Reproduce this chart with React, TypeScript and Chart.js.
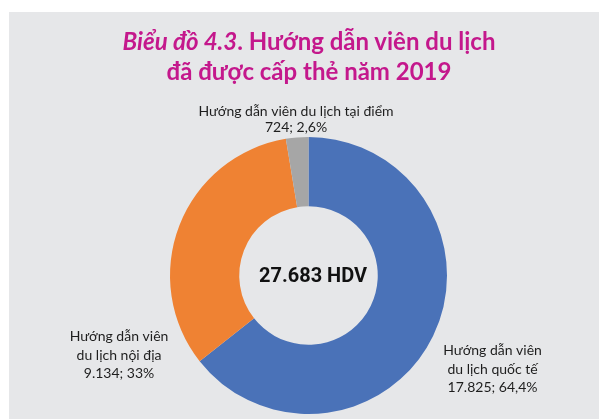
import React, { useEffect, useRef } from "react";
import { Chart, registerables } from "chart.js";

Chart.register(...registerables);

// ---- data ----
const categoryLines: string[][] = [
  ["Hướng dẫn viên", "du lịch quốc tế"],
  ["Hướng dẫn viên", "du lịch nội địa"],
  ["Hướng dẫn viên du lịch tại điểm"],
];
const values: number[] = [17825, 9134, 724];
const percents: number[] = [64.4, 33, 2.6];
const unitLabel = "HDV";
const titleItalic = "Biểu đồ 4.3";
const titleRest1 = ". Hướng dẫn viên du lịch";
const titleLine2 = "đã được cấp thẻ năm 2019";

// ---- styles ----
const sliceColors = ["#4a72b8", "#ef8233", "#a6a6a6"];
const bg = "#e6e7e9";

const fmtInt = (n: number) => String(n).replace(/\B(?=(\d{3})+(?!\d))/g, ".");
const fmtPct = (p: number) => String(p).replace(".", ",") + "%";

// label anchor offsets in units of outer radius, from arc centre
const placements = [
  { dx: 1.329, dy: 0.575, lh: 18.5 },
  { dx: -1.368, dy: 0.473, lh: 18.5 },
  { dx: -0.09, dy: -1.152, lh: 16 },
];

const labelPlugin = {
  id: "outLabels",
  afterDraw(chart: any) {
    const ctx = chart.ctx as CanvasRenderingContext2D;
    const meta = chart.getDatasetMeta(0);
    if (!meta.data.length) return;
    const { x, y, outerRadius } = meta.data[0].getProps(["x", "y", "outerRadius"], true);
    ctx.save();
    ctx.fillStyle = "#1e1e1e";
    ctx.font = "14px Lato, 'Noto Sans', sans-serif";
    ctx.textAlign = "center";
    ctx.textBaseline = "alphabetic";
    values.forEach((v, i) => {
      const p = placements[i];
      const lines = [...categoryLines[i], `${fmtInt(v)}; ${fmtPct(percents[i])}`];
      const ax = x + p.dx * outerRadius;
      const ay = y + p.dy * outerRadius;
      lines.forEach((ln, k) => ctx.fillText(ln, ax, ay + k * p.lh));
    });
    const total = values.reduce((a, b) => a + b, 0);
    ctx.font = "bold 20px Roboto, 'Liberation Sans', sans-serif";
    ctx.fillStyle = "#111111";
    ctx.textBaseline = "middle";
    ctx.fillText(`${fmtInt(total)} ${unitLabel}`, x + 4.5, y + 1);
    ctx.restore();
  },
};

export default function App() {
  const ref = useRef<HTMLCanvasElement | null>(null);
  useEffect(() => {
    if (!ref.current) return;
    const chart = new Chart(ref.current, {
      type: "doughnut",
      data: {
        labels: categoryLines.map((l) => l.join(" ")),
        datasets: [
          {
            data: values,
            backgroundColor: sliceColors,
            borderWidth: 0,
          },
        ],
      },
      options: {
        responsive: false,
        animation: false,
        cutout: "50%",
        layout: { padding: { left: 161, right: 152, top: 125, bottom: 5 } },
        plugins: {
          legend: { display: false },
          tooltip: { enabled: false },
        },
      },
      plugins: [labelPlugin],
    });
    return () => chart.destroy();
  }, []);

  return (
    <div
      style={{
        position: "fixed",
        left: 9,
        top: 12,
        width: 590,
        height: 407,
        background: bg,
        overflow: "hidden",
      }}
    >
      <canvas ref={ref} width={590} height={407} style={{ display: "block" }} />
      <div
        style={{
          position: "absolute",
          left: 0,
          top: 14,
          width: 600,
          textAlign: "center",
          fontFamily: "Lato, 'Noto Sans', sans-serif",
          fontWeight: 700,
          fontSize: 24,
          lineHeight: "30px",
          color: "#c4188c",
          whiteSpace: "nowrap",
        }}
      >
        <div>
          <i>{titleItalic}</i>
          {titleRest1}
        </div>
        <div>{titleLine2}</div>
      </div>
    </div>
  );
}
